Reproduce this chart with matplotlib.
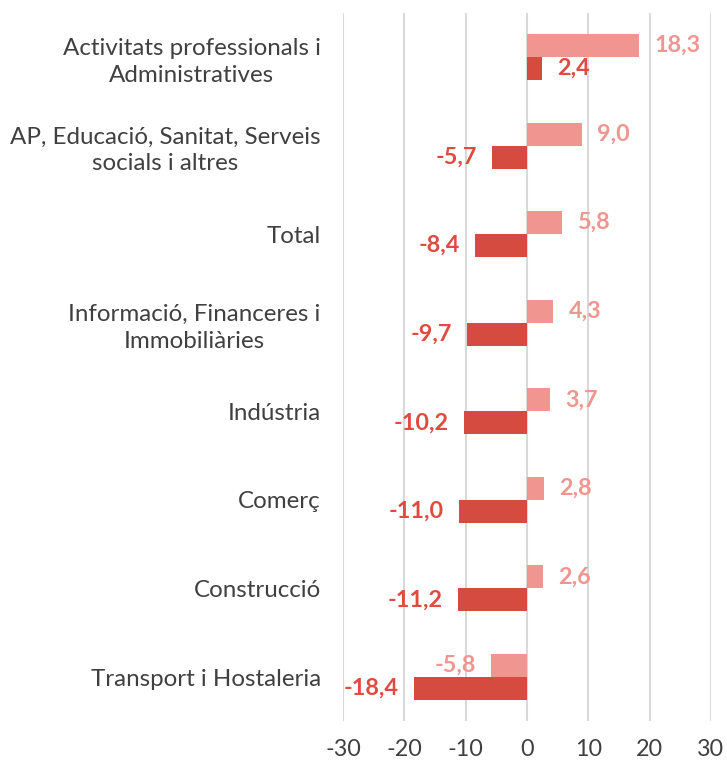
import matplotlib
matplotlib.use("Agg")
import matplotlib.pyplot as plt
import numpy as np

plt.rcParams['font.family'] = ['Lato', 'DejaVu Sans']

categories = [
    "Activitats professionals i\nAdministratives",
    "AP, Educació, Sanitat, Serveis\nsocials i altres",
    "Total",
    "Informació, Financeres i\nImmobiliàries",
    "Indústria",
    "Comerç",
    "Construcció",
    "Transport i Hostaleria",
]
series_light = [18.3, 9.0, 5.8, 4.3, 3.7, 2.8, 2.6, -5.8]
series_dark = [2.4, -5.7, -8.4, -9.7, -10.2, -11.0, -11.2, -18.4]
xticks = [-30, -20, -10, 0, 10, 20, 30]

c_light = "#F0958F"
c_dark = "#D64B40"
t_light = "#F0958F"
t_dark = "#E04B40"

fig = plt.figure(figsize=(7.27, 7.64), dpi=100)
ax = fig.add_axes([0.4718, 0.0559, 0.506, 0.9275])

y = np.arange(len(categories))
h = 0.26
ax.barh(y - h / 2, series_light, height=h, color=c_light, zorder=3)
ax.barh(y + h / 2, series_dark, height=h, color=c_dark, zorder=3)

def fmt(v):
    return f"{v:.1f}".replace(".", ",")

for yi, v in zip(y - h / 2, series_light):
    off = 11 if v >= 0 else -11
    ax.annotate(fmt(v), (v, yi), xytext=(off, 0), textcoords="offset points",
                ha="left" if v >= 0 else "right", va="center",
                color=t_light, fontsize=16.8, fontweight="bold")
for yi, v in zip(y + h / 2, series_dark):
    off = 11 if v >= 0 else -11
    ax.annotate(fmt(v), (v, yi), xytext=(off, 0), textcoords="offset points",
                ha="left" if v >= 0 else "right", va="center",
                color=t_dark, fontsize=16.8, fontweight="bold")

ax.set_xlim(-30, 30)
ax.set_ylim(len(categories) - 0.5, -0.5)
ax.set_xticks(xticks)
ax.set_xticklabels([str(t) for t in xticks], fontsize=16.8, color="#404040")
ax.set_yticks(y)
ax.set_yticklabels(categories, fontsize=17.4, color="#404040", ha="right")
ax.tick_params(axis="y", length=0, pad=16)
ax.tick_params(axis="x", length=0, pad=13)
for lbl in ax.get_yticklabels():
    lbl.set_multialignment("center")
    lbl.set_linespacing(1.35)
for s in ax.spines.values():
    s.set_visible(False)
ax.grid(axis="x", color="#D9D9D9", linewidth=1.5, zorder=0)
ax.set_axisbelow(True)

fig.savefig("out.png", dpi=100)
